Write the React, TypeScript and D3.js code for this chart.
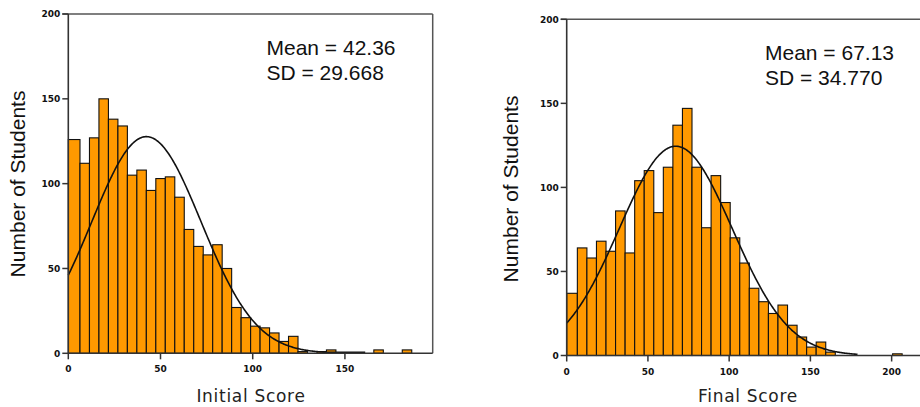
import { useEffect } from 'react';
import * as d3 from 'd3';

// counts per histogram bin
const initialCounts = [126, 112, 127, 150, 138, 134, 105, 108, 96, 103, 104, 92, 73, 63, 58, 64, 50, 27, 21, 16, 15, 12, 7, 10, 1, 0, 1, 2, 0, 0, 0, 0, 2, 0, 0, 2];
const finalCounts = [37, 64, 58, 68, 62, 86, 61, 104, 110, 85, 112, 137, 147, 112, 76, 107, 91, 70, 55, 40, 32, 25, 30, 18, 11, 5, 8, 2, 0, 0, 0, 0, 0, 0, 1];

const yTicks = [0, 50, 100, 150, 200];
const initialXTicks = [0, 50, 100, 150];
const finalXTicks = [0, 50, 100, 150, 200];

// bin edges (score units): first bar runs 0..firstEdge, then constant width
const initialBins = { firstEdge: 6.34, width: 5.14 };
const finalBins = { firstEdge: 6.56, width: 5.88 };

// fitted normal curve: mean, sd, peak height (count), last x drawn
const initialFit = { mean: 42.36, sd: 29.668, peak: 127.7, xMax: 161 };
const finalFit = { mean: 67.13, sd: 34.77, peak: 124.5, xMax: 179 };

interface PanelProps {
  counts: number[];
  bins: { firstEdge: number; width: number };
  fit: { mean: number; sd: number; peak: number; xMax: number };
  xTicks: number[];
  xDomainMax: number;
  xRange: [number, number];
  yRange: [number, number];
  xTitle: string;
  xTitlePos: [number, number];
  yTitlePos: [number, number];
  statsPos: [number, number];
}

function Panel(p: PanelProps) {
  const x = d3.scaleLinear().domain([0, p.xDomainMax]).range(p.xRange);
  const y = d3.scaleLinear().domain([0, 200]).range(p.yRange);
  const [left, right] = p.xRange;
  const [bottom, top] = p.yRange;

  const bars = p.counts.map((c, i) => {
    const x0 = i === 0 ? 0 : p.bins.firstEdge + (i - 1) * p.bins.width;
    const x1 = p.bins.firstEdge + i * p.bins.width;
    return { x0, x1, c };
  });

  const pts: [number, number][] = [];
  for (let v = 0; v <= p.fit.xMax; v += 0.5) {
    const z = (v - p.fit.mean) / p.fit.sd;
    pts.push([v, p.fit.peak * Math.exp(-0.5 * z * z)]);
  }
  const line = d3.line<[number, number]>()
    .x(d => x(d[0]))
    .y(d => Math.min(y(d[1]), bottom - 1));

  return (
    <g>
      {/* frame */}
      <line x1={left - 6} x2={right} y1={top} y2={top} stroke="#555" strokeWidth={1.5} />
      <line x1={right} x2={right} y1={top} y2={bottom} stroke="#555" strokeWidth={1.5} />

      {bars.filter(b => b.c > 0).map((b, i) => (
        <rect key={i}
          x={x(b.x0)} y={y(b.c)}
          width={x(b.x1) - x(b.x0)} height={bottom - y(b.c)}
          fill="#ff9900" stroke="#111" strokeWidth={1.1} />
      ))}

      <path d={line(pts) || ''} fill="none" stroke="#111" strokeWidth={1.6} />

      {/* axes */}
      <line x1={left} x2={left} y1={top} y2={bottom} stroke="#333" strokeWidth={1.6} />
      <line x1={left} x2={right} y1={bottom} y2={bottom} stroke="#333" strokeWidth={1.6} />
      {yTicks.map(t => (
        <g key={t}>
          <line x1={left - 6} x2={left} y1={y(t)} y2={y(t)} stroke="#333" strokeWidth={1.5} />
          <text x={left - 8} y={y(t) + 3.2} textAnchor="end"
            fontFamily="DejaVu Sans" fontWeight="bold" fontSize={9} fill="#111">{t}</text>
        </g>
      ))}
      {p.xTicks.map(t => (
        <g key={t}>
          <line x1={x(t)} x2={x(t)} y1={bottom} y2={bottom + 6} stroke="#333" strokeWidth={1.5} />
          <text x={x(t)} y={bottom + 19} textAnchor="middle"
            fontFamily="DejaVu Sans" fontWeight="bold" fontSize={9} fill="#111">{t}</text>
        </g>
      ))}

      <text x={p.xTitlePos[0]} y={p.xTitlePos[1]} textAnchor="middle"
        fontFamily="DejaVu Sans" fontSize={17} letterSpacing={0.7} fill="#222">{p.xTitle}</text>
      <text transform={`translate(${p.yTitlePos[0]},${p.yTitlePos[1]}) rotate(-90)`} textAnchor="middle"
        fontFamily="Liberation Sans, Arial" fontSize={21} fill="#111">Number of Students</text>

      <text x={p.statsPos[0]} y={p.statsPos[1]} fontFamily="Liberation Sans, Arial" fontSize={21} fill="#111">
        Mean = {p.fit.mean.toFixed(2)}
      </text>
      <text x={p.statsPos[0]} y={p.statsPos[1] + 25} fontFamily="Liberation Sans, Arial" fontSize={21} fill="#111">
        SD = {p.fit.sd.toFixed(3)}
      </text>
    </g>
  );
}

export default function App() {
  useEffect(() => {
    document.body.style.margin = '0';
  }, []);

  return (
    <svg width={920} height={407} style={{ position: 'absolute', left: 0, top: 0, background: '#fff' }}>
      <Panel
        counts={initialCounts} bins={initialBins} fit={initialFit}
        xTicks={initialXTicks} xDomainMax={197.6}
        xRange={[68.3, 432.7]} yRange={[353.3, 14]}
        xTitle="Initial Score" xTitlePos={[251, 402]}
        yTitlePos={[25, 184]} statsPos={[266.5, 55]} />
      <Panel
        counts={finalCounts} bins={finalBins} fit={finalFit}
        xTicks={finalXTicks} xDomainMax={223}
        xRange={[566.7, 929]} yRange={[355.5, 19.3]}
        xTitle="Final Score" xTitlePos={[748, 402]}
        yTitlePos={[518, 189]} statsPos={[765, 60]} />
    </svg>
  );
}
